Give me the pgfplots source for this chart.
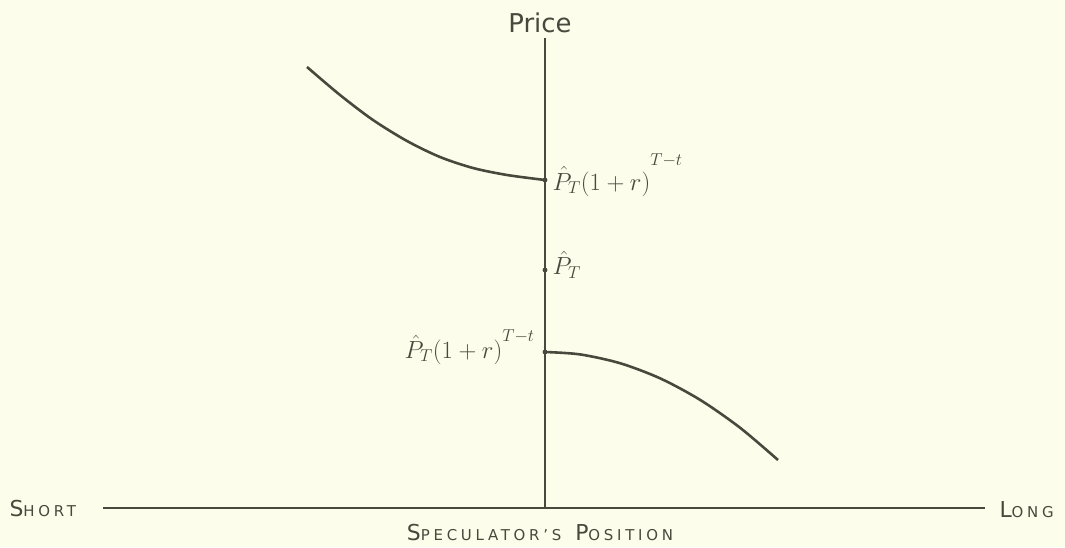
\documentclass[border=0pt]{standalone}
\usepackage{pgfplots}
\pgfplotsset{compat=1.18}
\usepackage{fontspec}
\setmainfont{DejaVu Sans}
\definecolor{bg}{RGB}{253,253,236}
\definecolor{ink}{RGB}{72,72,60}
\newcommand{\fsc}[2]{{\addfontfeature{LetterSpace=25}#1{\fontsize{15}{18}\selectfont #2}}}
\begin{document}
\begin{tikzpicture}
\begin{axis}[
  scale only axis, width=1065bp, height=547bp,
  xmin=0, xmax=1065, ymin=0, ymax=547,
  axis lines=none, clip=false,
]
\fill[bg] (axis cs:0,0) rectangle (axis cs:1065,547);
% axes (pixel coords, y = 547 - row)
\addplot[ink, line width=2.2pt] coordinates {(103,39) (985,39)};
\addplot[ink, line width=2.2pt] coordinates {(545,39) (545,509)};
% upper curve
\addplot[ink, line width=2.6pt, smooth] coordinates {
(307,480) (340,452) (373,427) (407,406) (440,390) (473,379) (507,372) (545,367)};
% lower curve
\addplot[ink, line width=2.6pt, smooth] coordinates {
(545,195) (580,192.6) (620,183.8) (660,168.7) (700,147.2) (740,119.3) (778,87)};
% points
\addplot[ink, only marks, mark=*, mark size=2.2pt] coordinates {(545,367) (545,277) (545,195)};
% labels
\node[ink, anchor=west, font=\fontsize{25}{30}\selectfont] at (axis cs:549,372) {$\hat{P}_{T}(1+r)^{\raisebox{16pt}{$\scriptstyle T-t$}}$};
\node[ink, anchor=west, font=\fontsize{25}{30}\selectfont] at (axis cs:549,282) {$\hat{P}_{T}$};
\node[ink, anchor=east, font=\fontsize{25}{30}\selectfont] at (axis cs:538,200) {$\hat{P}_{T}(1+r)^{\raisebox{8pt}{$\scriptstyle T-t$}}$};
\node[ink, font=\fontsize{26}{30}\selectfont] at (axis cs:540,524) {Price};
\node[ink, anchor=west, font=\fontsize{22}{26}\selectfont] at (axis cs:6,38) {\fsc{S}{HORT}};
\node[ink, anchor=west, font=\fontsize{22}{26}\selectfont] at (axis cs:996,37) {\fsc{L}{ONG}};
\node[ink, font=\fontsize{22}{26}\selectfont] at (axis cs:540,14) {\fsc{S}{PECULATOR'S}\hspace{14pt}\fsc{P}{OSITION}};
\end{axis}
\end{tikzpicture}
\end{document}
